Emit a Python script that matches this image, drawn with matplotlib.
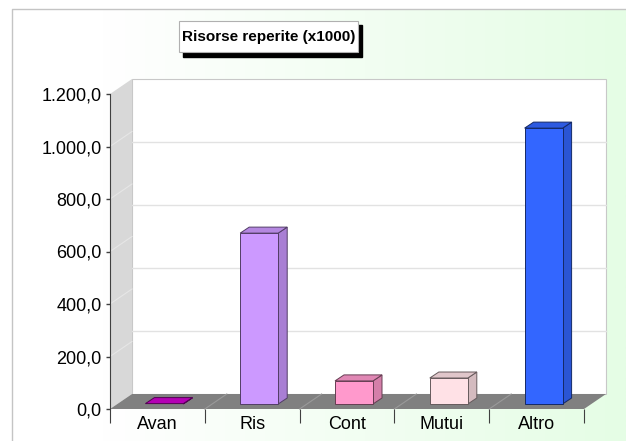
import matplotlib.pyplot as plt
import numpy as np
from matplotlib.patches import Polygon, Rectangle
from matplotlib.ticker import FuncFormatter

plt.rcParams['font.family'] = ['Liberation Sans', 'DejaVu Sans']

# dati
categorie = ['Avan', 'Ris', 'Cont', 'Mutui', 'Altro']
valori = [1.5, 651, 88, 99, 1051]
colori = ['#cc00cc', '#cc99ff', '#ff99cc', '#ffe1e6', '#3366ff']
titolo = 'Risorse reperite (x1000)'
y_ticks = [0, 200, 400, 600, 800, 1000, 1200]
griglia = [240, 480, 720, 960]
y_max = 1200

W, H = 626, 441
fig = plt.figure(figsize=(W / 100, H / 100), dpi=100)

# sfondo con sfumatura bianco -> verde chiaro
bg = fig.add_axes([0, 0, 1, 1], zorder=-10)
bg.set_xlim(0, W)
bg.set_ylim(H, 0)
bg.axis('off')
t = np.clip((np.linspace(0, 1, 300) - 0.15) / 0.85, 0, 1)
verde = np.array([229, 253, 229]) / 255
img = (1 - t)[:, None] * np.ones(3) + t[:, None] * verde
bg.imshow(img[None, :, :], aspect='auto', extent=[12, W, H, 9])
bg.plot([12, 12, W], [H, 9, 9], color='#c4c4c4', lw=1)

# box del titolo con ombra
bg.add_patch(Rectangle((183, 25), 179, 32, color='black'))
bg.add_patch(Rectangle((179, 21), 179, 31, facecolor='white', edgecolor='#b0b0b0', lw=0.8))
bg.text(268.5, 37, titolo, ha='center', va='center', fontsize=11, fontweight='bold')

# piano frontale
x0, y0, x1, y1 = 110, 409, 584, 94
ax = fig.add_axes([x0 / W, (H - y0) / H, (x1 - x0) / W, (y0 - y1) / H])
n = len(categorie)
ax.set_xlim(0, n)
ax.set_ylim(0, y_max)
ax.patch.set_alpha(0)

sx = (x1 - x0) / n        # pixel per categoria
sy = (y0 - y1) / y_max    # pixel per unita
ddx, ddy = 22 / sx, 15 / sy     # profondita del pavimento
bx, by = 7 / sx, 5 / sy         # scostamento barre
dbx, dby = 9 / sx, 6 / sy       # profondita barre
bw = 38 / sx


def poly(pts, fc, ec='none', lw=0.0, z=1):
    ax.add_patch(Polygon(pts, closed=True, facecolor=fc, edgecolor=ec,
                         lw=lw, zorder=z, clip_on=False))


# parete di fondo, parete sinistra, pavimento
poly([(ddx, ddy), (n + ddx, ddy), (n + ddx, y_max + ddy), (ddx, y_max + ddy)],
     'white', '#c8c8c8', 0.8, 0.5)
for g in griglia:
    ax.plot([ddx, n + ddx], [g + ddy, g + ddy], color='#e2e2e2', lw=1, zorder=0.6, clip_on=False)
poly([(0, 0), (ddx, ddy), (ddx, y_max + ddy), (0, y_max)], '#d8d8d8', z=0.7)
for v in y_ticks[1:-1]:
    ax.plot([0, ddx], [v, v + ddy], color='#e6e6e6', lw=0.8, zorder=0.8, clip_on=False)
poly([(0, 0), (n, 0), (n + ddx, ddy), (ddx, ddy)], '#808080', z=0.9)
for i in range(1, n):
    ax.plot([i, i + ddx], [0, ddy], color='#9a9a9a', lw=0.8, zorder=0.95, clip_on=False)

# barre 3D
for i, (v, c) in enumerate(zip(valori, colori)):
    rgb = np.array(plt.matplotlib.colors.to_rgb(c))
    side = rgb * 0.83
    top_c = rgb * 0.88
    edge = rgb * 0.4
    xa = i + 0.5 - bw / 2 + bx
    xb = xa + bw
    ya = by
    yb = by + v
    poly([(xb, ya), (xb + dbx, ya + dby), (xb + dbx, yb + dby), (xb, yb)], side, edge, 0.7, 2)
    poly([(xa, yb), (xb, yb), (xb + dbx, yb + dby), (xa + dbx, yb + dby)], top_c, edge, 0.7, 2)
    if v > 3:
        poly([(xa, ya), (xb, ya), (xb, yb), (xa, yb)], c, edge, 0.7, 2)

# assi
for s in ['top', 'right', 'bottom']:
    ax.spines[s].set_visible(False)
ax.spines['left'].set_color('#404040')
ax.spines['left'].set_zorder(3)
ax.set_yticks(y_ticks)
ax.yaxis.set_major_formatter(FuncFormatter(
    lambda v, p: f'{v:,.1f}'.replace(',', 'X').replace('.', ',').replace('X', '.')))
ax.tick_params(axis='y', length=3, width=1, color='#404040', pad=3, labelsize=13)
ax.set_xticks(np.arange(n + 1))
ax.set_xticklabels([])
ax.set_xticks(np.arange(n) + 0.5, minor=True)
ax.set_xticklabels(categorie, minor=True)
ax.tick_params(axis='x', which='major', length=10, width=0.8, color='#404040')
ax.tick_params(axis='x', which='minor', length=0, pad=5, labelsize=13)

fig.savefig('out.png', dpi=100)
